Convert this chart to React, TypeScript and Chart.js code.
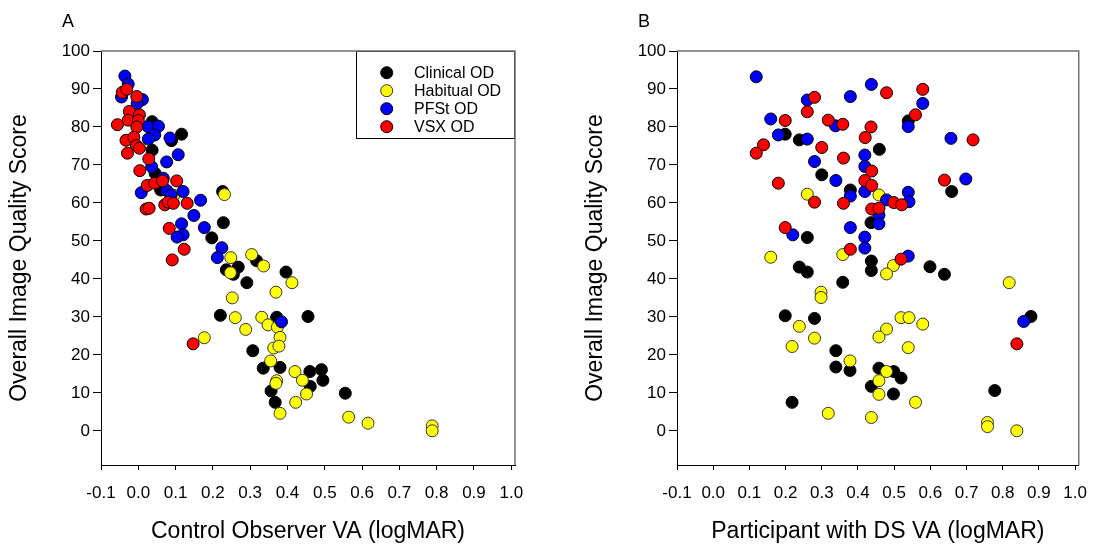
import React, { useEffect, useRef } from 'react';
import { Chart, registerables } from 'chart.js';
Chart.register(...registerables);

const FONT = '"Liberation Sans", Arial, Helvetica, sans-serif';

const xTickValues = [-0.1, 0.0, 0.1, 0.2, 0.3, 0.4, 0.5, 0.6, 0.7, 0.8, 0.9, 1.0];
const yTickValues = [0, 10, 20, 30, 40, 50, 60, 70, 80, 90, 100];

const seriesNames = ['Clinical OD', 'Habitual OD', 'PFSt OD', 'VSX OD'];
const seriesFill = ['#000000', '#FFFF00', '#0000FF', '#FF0000'];
const seriesEdge = ['#000000', '#333333', '#000000', '#000000'];

const panelLetters = ['A', 'B'];
const xTitles = ['Control Observer VA (logMAR)', 'Participant with DS VA (logMAR)'];
const yTitle = 'Overall Image Quality Score';

// Panel A: Control Observer VA vs score
const clinicalA: [number, number][] = [
  [0.037, 81.4], [0.116, 78.1], [0.089, 76.4], [0.037, 73.9], [0.045, 67.8], [0.060, 63.4], [0.226, 63.0],
  [0.228, 54.8], [0.197, 50.8], [0.236, 42.4], [0.268, 43.1], [0.255, 41.2], [0.317, 44.8], [0.291, 39.0],
  [0.396, 41.8], [0.220, 30.4], [0.371, 29.9], [0.455, 30.1], [0.307, 21.1], [0.335, 16.5], [0.380, 16.7],
  [0.460, 15.6], [0.491, 16.1], [0.495, 13.3], [0.461, 11.7], [0.356, 10.5], [0.367, 7.5], [0.555, 9.9],
];
const habitualA: [number, number][] = [
  [0.095, 62.0], [0.231, 62.2], [0.248, 45.6], [0.247, 41.6], [0.304, 46.4], [0.336, 43.4], [0.412, 39.0],
  [0.369, 36.5], [0.252, 35.0], [0.260, 29.8], [0.288, 26.7], [0.331, 29.9], [0.348, 27.9], [0.373, 27.3],
  [0.380, 24.6], [0.177, 24.5], [0.363, 21.8], [0.377, 22.3], [0.355, 18.4], [0.420, 15.6], [0.440, 13.3],
  [0.451, 9.7], [0.371, 13.2], [0.369, 12.5], [0.422, 7.5], [0.380, 4.6], [0.564, 3.6], [0.616, 2.0],
  [0.788, 1.3], [0.788, 0.0],
];
const pfstA: [number, number][] = [
  [-0.036, 93.4], [-0.027, 91.3], [-0.045, 87.9], [0.011, 87.2], [-0.003, 86.2], [0.026, 80.1], [0.054, 80.2],
  [0.044, 77.9], [0.027, 76.8], [0.085, 77.1], [0.107, 72.7], [0.076, 70.8], [0.036, 69.5], [0.067, 66.5],
  [0.008, 62.7], [0.076, 63.3], [0.088, 62.1], [0.120, 63.0], [0.167, 60.7], [0.149, 56.7], [0.116, 54.5],
  [0.177, 53.5], [0.120, 51.6], [0.104, 51.0], [0.224, 48.2], [0.212, 45.6], [0.384, 28.7],
];
const vsxA: [number, number][] = [
  [-0.043, 89.1], [-0.031, 89.9], [-0.004, 88.0], [-0.024, 84.1], [0.003, 83.2], [-0.027, 81.8], [0.000, 81.7],
  [-0.056, 80.6], [-0.004, 80.0], [-0.033, 76.5], [-0.012, 77.3], [-0.005, 75.1], [0.003, 74.4], [-0.029, 73.1],
  [0.028, 71.6], [0.004, 68.5], [0.103, 65.8], [0.024, 64.6], [0.044, 65.2], [0.065, 65.8], [0.021, 58.4],
  [0.029, 58.6], [0.071, 59.5], [0.080, 60.2], [0.094, 59.9], [0.131, 59.9], [0.083, 53.3], [0.123, 47.8],
  [0.091, 45.0], [0.147, 22.9],
];

// Panel B: Participant with DS VA vs score
const clinicalB: [number, number][] = [
  [0.199, 78.1], [0.238, 76.6], [0.300, 67.4], [0.379, 63.4], [0.436, 54.8], [0.260, 50.9], [0.437, 44.7],
  [0.437, 42.2], [0.238, 43.1], [0.260, 41.8], [0.358, 39.1], [0.459, 74.1], [0.539, 81.6], [0.659, 63.0],
  [0.599, 43.2], [0.639, 41.2], [0.199, 30.3], [0.280, 29.6], [0.339, 21.1], [0.339, 16.8], [0.378, 15.9],
  [0.458, 16.5], [0.499, 15.6], [0.519, 13.9], [0.437, 11.7], [0.498, 9.7], [0.218, 7.5], [0.778, 10.6],
  [0.878, 30.1],
];
const habitualB: [number, number][] = [
  [0.260, 62.3], [0.458, 62.1], [0.358, 46.4], [0.159, 45.7], [0.498, 43.5], [0.479, 41.3], [0.818, 39.0],
  [0.298, 36.5], [0.298, 35.1], [0.238, 27.5], [0.280, 24.4], [0.218, 22.2], [0.378, 18.4], [0.519, 29.8],
  [0.541, 29.8], [0.579, 28.1], [0.479, 26.8], [0.458, 24.7], [0.539, 21.9], [0.479, 15.6], [0.458, 13.2],
  [0.458, 9.6], [0.559, 7.5], [0.318, 4.6], [0.437, 3.5], [0.758, 2.2], [0.758, 1.1], [0.839, 0.0],
];
const pfstB: [number, number][] = [
  [0.119, 93.2], [0.260, 87.1], [0.379, 88.0], [0.437, 91.2], [0.159, 82.1], [0.338, 80.3], [0.180, 77.9],
  [0.260, 76.8], [0.280, 70.9], [0.419, 72.6], [0.419, 69.6], [0.339, 65.9], [0.419, 63.0], [0.379, 61.8],
  [0.220, 51.6], [0.379, 53.5], [0.419, 51.0], [0.419, 48.1], [0.579, 86.2], [0.539, 80.1], [0.657, 77.0],
  [0.698, 66.3], [0.539, 62.8], [0.541, 60.3], [0.479, 60.8], [0.458, 56.8], [0.458, 54.5], [0.539, 46.0],
  [0.858, 28.8],
];
const vsxB: [number, number][] = [
  [0.280, 87.8], [0.260, 84.0], [0.199, 81.7], [0.318, 81.8], [0.358, 80.7], [0.436, 80.0], [0.420, 77.2],
  [0.139, 75.3], [0.119, 73.1], [0.300, 74.6], [0.360, 71.8], [0.438, 68.4], [0.419, 65.9], [0.438, 64.6],
  [0.180, 65.2], [0.280, 60.2], [0.360, 59.9], [0.438, 58.4], [0.199, 53.5], [0.379, 47.8], [0.479, 89.0],
  [0.579, 89.9], [0.559, 83.2], [0.718, 76.6], [0.639, 66.0], [0.499, 60.1], [0.521, 59.5], [0.458, 58.6],
  [0.519, 45.2], [0.839, 22.9],
];

const panelSeries = [
  [clinicalA, habitualA, pfstA, vsxA],
  [clinicalB, habitualB, pfstB, vsxB],
];

const framePlugin = {
  id: 'frame',
  afterDatasetsDraw(chart: any, _args: any, opts: any) {
    const { ctx, chartArea } = chart;
    const { left, right, top, bottom } = chartArea;
    ctx.save();
    if (opts.showLegend) {
      const lx = right - 159;
      const ly = top;
      const lh = 87;
      ctx.fillStyle = '#ffffff';
      ctx.fillRect(lx, ly, right - lx, lh);
      ctx.strokeStyle = '#000000';
      ctx.lineWidth = 1;
      ctx.strokeRect(Math.round(lx) + 0.5, ly + 0.5, right - Math.round(lx) - 1, lh);
      chart.data.datasets.forEach((ds: any, i: number) => {
        const cy = ly + 21.7 + i * 18;
        ctx.beginPath();
        ctx.arc(lx + 30.7, cy, 6, 0, Math.PI * 2);
        ctx.fillStyle = ds.backgroundColor;
        ctx.fill();
        ctx.lineWidth = 1;
        ctx.strokeStyle = ds.borderColor;
        ctx.stroke();
        ctx.fillStyle = '#000000';
        ctx.font = '16px ' + FONT;
        ctx.textAlign = 'left';
        ctx.textBaseline = 'middle';
        ctx.fillText(ds.label, lx + 58, cy + 1);
      });
    }
    ctx.strokeStyle = '#707070';
    ctx.lineWidth = 1.5;
    ctx.beginPath();
    ctx.moveTo(left, top);
    ctx.lineTo(right, top);
    ctx.lineTo(right, bottom);
    ctx.stroke();
    ctx.fillStyle = '#000000';
    ctx.font = '18px ' + FONT;
    ctx.textAlign = 'center';
    ctx.textBaseline = 'middle';
    ctx.fillText(opts.letter, left - 33, 22);
    ctx.restore();
  },
};

function makeConfig(panel: number): any {
  const series = panelSeries[panel];
  return {
    type: 'scatter',
    data: {
      datasets: series.map((pts, i) => ({
        label: seriesNames[i],
        data: pts.map(([x, y]) => ({ x, y })),
        backgroundColor: seriesFill[i],
        borderColor: seriesEdge[i],
        borderWidth: 1,
        pointRadius: 6,
        pointHoverRadius: 6,
        order: 4 - i,
      })),
    },
    options: {
      responsive: false,
      animation: false,
      events: [],
      layout: { padding: { left: 0, top: 51, right: panel === 0 ? 45 : 9, bottom: 0 } },
      plugins: {
        legend: { display: false },
        tooltip: { enabled: false },
        frame: { letter: panelLetters[panel], showLegend: panel === 0 },
      },
      scales: {
        x: {
          type: 'linear',
          min: -0.1,
          max: 1.01,
          afterBuildTicks: (s: any) => {
            s.ticks = xTickValues.map((v) => ({ value: v }));
          },
          afterFit: (s: any) => {
            s.height = 80;
          },
          grid: { display: true, drawOnChartArea: false, drawTicks: true, tickLength: 5, tickColor: '#000000', tickWidth: 1 },
          border: { display: true, color: '#000000', width: 1 },
          ticks: {
            color: '#000000',
            font: { family: FONT, size: 17 },
            padding: 13,
            autoSkip: false,
            maxRotation: 0,
            callback: (v: any) => Number(v).toFixed(1),
          },
          title: {
            display: true,
            text: xTitles[panel],
            color: '#000000',
            font: { family: FONT, size: 23 },
            padding: { top: 0, bottom: 0 },
          },
        },
        y: {
          type: 'linear',
          min: -9,
          max: 100,
          afterBuildTicks: (s: any) => {
            s.ticks = yTickValues.map((v) => ({ value: v }));
          },
          afterFit: (s: any) => {
            s.width = 101;
          },
          grid: { display: true, drawOnChartArea: false, drawTicks: true, tickLength: 8, tickColor: '#000000', tickWidth: 1 },
          border: { display: true, color: '#000000', width: 1 },
          ticks: {
            color: '#000000',
            font: { family: FONT, size: 17 },
            padding: 3,
            autoSkip: false,
            callback: (v: any) => String(v),
          },
          title: {
            display: true,
            text: yTitle,
            color: '#000000',
            font: { family: FONT, size: 23 },
            padding: { top: 6, bottom: 0 },
          },
        },
      },
    },
    plugins: [framePlugin],
  };
}

function Panel({ panel, left, width }: { panel: number; left: number; width: number }) {
  const ref = useRef<HTMLCanvasElement | null>(null);
  useEffect(() => {
    if (!ref.current) return;
    const chart = new Chart(ref.current, makeConfig(panel));
    return () => chart.destroy();
  }, [panel]);
  return (
    <canvas
      ref={ref}
      width={width}
      height={545}
      style={{ position: 'absolute', left, top: 0, width, height: 545 }}
    />
  );
}

export default function App() {
  return (
    <div style={{ position: 'fixed', left: 0, top: 0, width: 1100, height: 545, background: '#ffffff' }}>
      <Panel panel={0} left={0} width={560} />
      <Panel panel={1} left={576} width={524} />
    </div>
  );
}
